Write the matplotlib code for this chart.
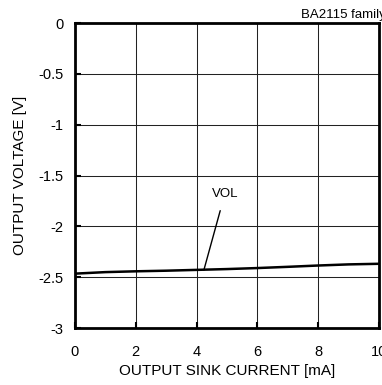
import matplotlib
matplotlib.use('Agg')
import matplotlib.pyplot as plt

plt.rcParams['font.family'] = ['Liberation Sans', 'DejaVu Sans']

# Datos
corriente = [0, 1, 2, 3, 4, 5, 6, 7, 8, 9, 10]
vol = [-2.465, -2.450, -2.442, -2.436, -2.428, -2.420, -2.410, -2.398, -2.385, -2.374, -2.368]
xticks = [0, 2, 4, 6, 8, 10]
yticks = [0, -0.5, -1, -1.5, -2, -2.5, -3]
ytick_labels = ['0', '-0.5', '-1', '-1.5', '-2', '-2.5', '-3']

fig = plt.figure(figsize=(3.82, 3.85), dpi=100)
ax = fig.add_axes([0.1963, 0.148, 0.7957, 0.792])

ax.plot(corriente, vol, color='black', linewidth=1.8, solid_capstyle='butt')

ax.set_xlim(0, 10)
ax.set_ylim(-3, 0)
ax.set_xticks(xticks)
ax.set_yticks(yticks)
ax.set_yticklabels(ytick_labels)
ax.grid(True, color='#222222', linewidth=0.75)
ax.set_axisbelow(True)

for s in ax.spines.values():
    s.set_linewidth(2.0)
ax.tick_params(direction='in', length=4, width=1.5, labelsize=10.5)
ax.tick_params(axis='y', pad=8.5)
ax.tick_params(axis='x', pad=12.5)

ax.set_xlabel('OUTPUT SINK CURRENT [mA]', fontsize=11, labelpad=3)
ax.set_ylabel('OUTPUT VOLTAGE [V]', fontsize=11, labelpad=8)

# Etiqueta de la curva
ax.annotate('VOL', xy=(4.24, -2.43), xytext=(4.93, -1.68),
            ha='center', va='center', fontsize=9.5,
            arrowprops=dict(arrowstyle='-', color='black', linewidth=1.0,
                            shrinkA=6, shrinkB=0))

fig.text(300.7 / 382, 1 - 18 / 385, 'BA2115 family', fontsize=9.5, ha='left', va='baseline')

fig.savefig('out.png', dpi=100)
